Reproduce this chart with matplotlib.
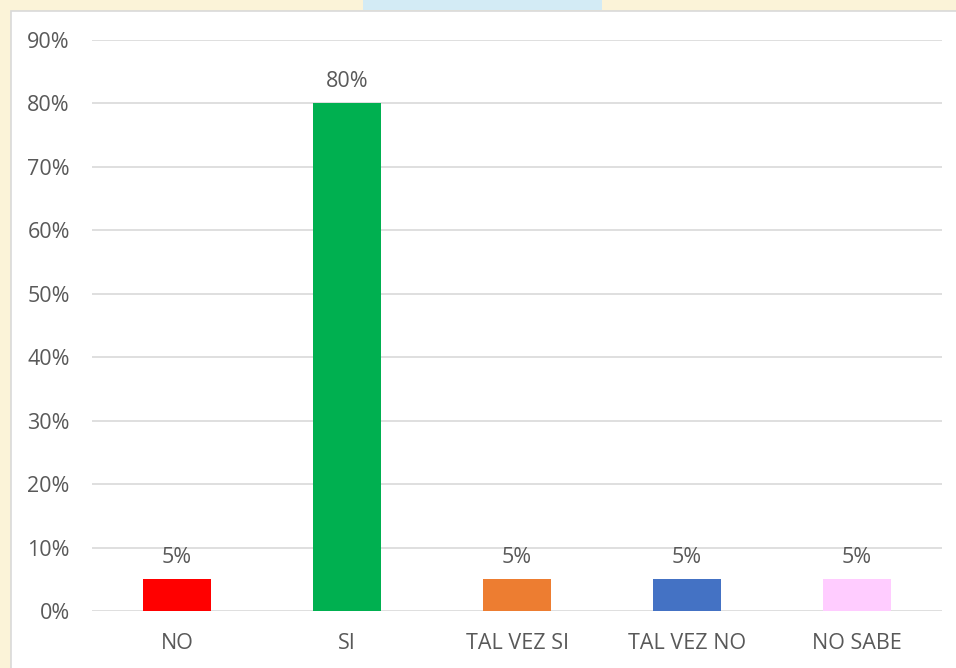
import matplotlib.pyplot as plt
from matplotlib.patches import Rectangle
from matplotlib.ticker import FuncFormatter

# Data
categories = ["NO", "SI", "TAL VEZ SI", "TAL VEZ NO", "NO SABE"]
values = [0.05, 0.80, 0.05, 0.05, 0.05]
colors = ["#FF0000", "#00B050", "#ED7D31", "#4472C4", "#FFCCFF"]

plt.rcParams["font.family"] = ["Open Sans", "DejaVu Sans"]
txt = "#595959"
fs = 15.5

fig = plt.figure(figsize=(9.56, 6.68), dpi=100)
fig.patch.set_facecolor("#fbf3d8")

# faint decorative background strip along the top
fig.patches.append(
    Rectangle((0.38, 0.985), 0.25, 0.015, transform=fig.transFigure,
              facecolor="#d3ebf5", edgecolor="none", zorder=-2)
)
# white chart panel
fig.patches.append(
    Rectangle((11 / 956, -0.01), 1.0, 1 - 11 / 668 + 0.01, transform=fig.transFigure,
              facecolor="white", edgecolor="#d9d9d9", lw=1.2, zorder=-1)
)

ax = fig.add_axes([92 / 956, 1 - 611 / 668, 850 / 956, (611 - 40) / 668])
ax.set_facecolor("none")
x = range(len(categories))
bars = ax.bar(x, values, width=0.4, color=colors, zorder=3)

ax.set_xlim(-0.5, len(categories) - 0.5)
ax.set_ylim(0, 0.9)
ax.set_yticks([i / 10 for i in range(10)])
ax.yaxis.set_major_formatter(FuncFormatter(lambda v, p: f"{v * 100:.0f}%"))
ax.set_xticks(list(x))
ax.set_xticklabels(categories)
ax.grid(axis="y", color="#d9d9d9", lw=1.2, zorder=0)
for s in ax.spines.values():
    s.set_visible(False)
ax.tick_params(axis="both", length=0, labelsize=fs, colors=txt)
ax.tick_params(axis="y", pad=16)
ax.tick_params(axis="x", pad=16)

for b, v in zip(bars, values):
    ax.annotate(f"{v * 100:.0f}%", (b.get_x() + b.get_width() / 2, v),
                xytext=(0, 8), textcoords="offset points",
                ha="center", va="bottom", fontsize=fs, color=txt)

fig.savefig("out.png", dpi=100, facecolor=fig.get_facecolor())
